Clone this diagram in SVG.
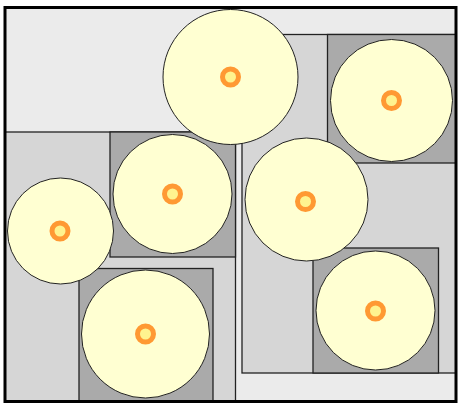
<svg xmlns="http://www.w3.org/2000/svg" width="461" height="409" viewBox="0 0 461 409">
<style>
.bg{fill:#ebebeb;stroke:none}
.region{fill:#d6d6d6;stroke:#222;stroke-width:1.3}
.cell{fill:#aaaaaa;stroke:#222;stroke-width:1.3}
.disc{fill:#ffffd2;stroke:#222;stroke-width:1}
.dot{fill:#fff38f;stroke:#ff9933;stroke-width:5}
.frame{fill:none;stroke:#000;stroke-width:3}
</style>
<rect class="bg" x="5" y="7.5" width="451" height="394"/>
<g id="region-left">
  <rect class="region" x="5" y="132" width="230.5" height="270"/>
</g>
<g id="region-right">
  <rect class="region" x="242" y="34.5" width="214" height="338.5"/>
</g>
<g id="cell-a"><rect class="cell" x="110" y="132" width="125.5" height="125"/></g>
<g id="cell-b"><rect class="cell" x="79" y="268.5" width="134" height="133.5"/></g>
<g id="cell-c"><rect class="cell" x="327.5" y="34.5" width="128.5" height="128.5"/></g>
<g id="cell-d"><rect class="cell" x="313" y="248" width="125.5" height="125"/></g>
<g id="node-top"><circle class="disc" cx="230.5" cy="77" r="67.5"/><circle class="dot" cx="230.5" cy="77" r="8"/></g>
<g id="node-a"><circle class="disc" cx="172.5" cy="194" r="59.5"/><circle class="dot" cx="172.5" cy="194" r="8"/></g>
<g id="node-left"><circle class="disc" cx="60.5" cy="231" r="53"/><circle class="dot" cx="60" cy="231" r="8"/></g>
<g id="node-b"><circle class="disc" cx="145.5" cy="334" r="64"/><circle class="dot" cx="145.5" cy="334" r="8"/></g>
<g id="node-c"><circle class="disc" cx="391.5" cy="100.5" r="61"/><circle class="dot" cx="391.5" cy="100.5" r="8"/></g>
<g id="node-mid"><circle class="disc" cx="306.5" cy="199.5" r="61.5"/><circle class="dot" cx="305.5" cy="201.5" r="8"/></g>
<g id="node-d"><circle class="disc" cx="375.5" cy="310.5" r="59.5"/><circle class="dot" cx="375.5" cy="311" r="8"/></g>
<g id="connectors"></g>
<rect class="frame" x="5" y="7.5" width="451" height="394"/>
</svg>
